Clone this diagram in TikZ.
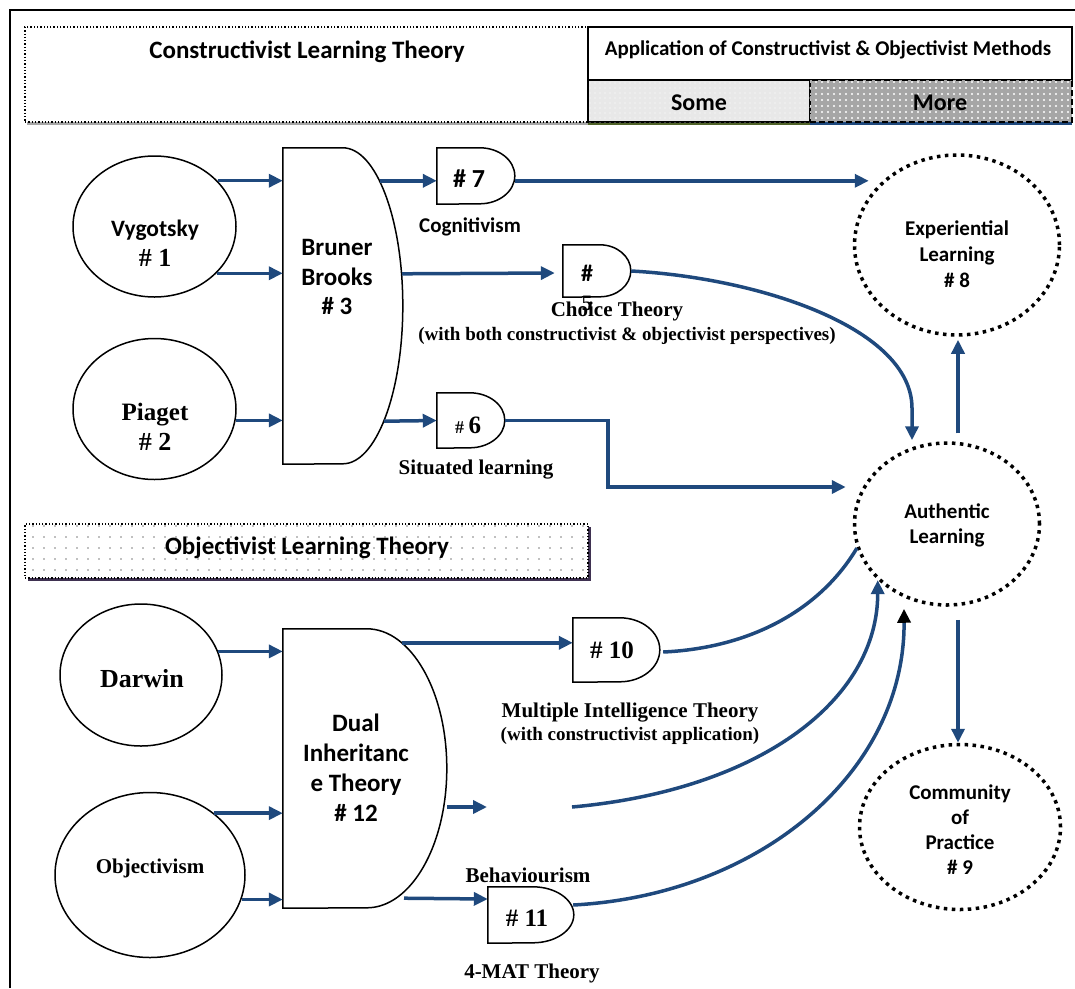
\documentclass[tikz,border=0pt]{standalone}
\usepackage{fontspec}
\setmainfont{Liberation Serif}
\newfontfamily\calib{Carlito}
\usetikzlibrary{arrows.meta,shapes.geometric,patterns.meta,calc}
\definecolor{linkblue}{HTML}{1F497D}
\definecolor{shadowgreen}{HTML}{4F6228}
\definecolor{shadowpurple}{HTML}{3F3151}
% sans (Calibri-like) and serif (Times-like) bold faces at a given size/leading
\newcommand\cf[2]{\calib\bfseries\fontsize{#1pt}{#2pt}\selectfont}
\newcommand\tf[2]{\rmfamily\bfseries\fontsize{#1pt}{#2pt}\selectfont}
% D-shaped outline over a gate node: name, flat top length, x radius, y radius
\newcommand\gate[4]{\draw[line width=1.5pt,fill=white] (#1.north west) -- ++(#2,0)
  arc[start angle=90,end angle=-90,x radius=#3pt,y radius=#4pt] -- (#1.south west) -- cycle;}
\begin{document}
\begin{tikzpicture}[x=1pt,y=-1pt,
  link/.style={draw=linkblue,line width=3.5pt},
  arr/.style={link,-{Triangle[length=14pt,width=13pt]}},
  solidell/.style={ellipse,draw,line width=1.5pt,inner sep=0pt},
  dotell/.style={ellipse,draw,line width=3.5pt,dash pattern=on 3.5pt off 4.5pt,inner sep=0pt},
  gatebox/.style={rectangle,inner sep=0pt},
  lbl/.style={inner sep=0pt,align=center},
]
\useasboundingbox (0,0) rectangle (1075,988);

% page frame
\draw[line width=2pt] (10,988) -- (10,10) -- (1075,10);

% ---- header: constructivist title box ----
\fill[gray!70] (27,121) rectangle (588,125);
\node[draw,dotted,line width=1.3pt,fill=white,minimum width=563pt,minimum height=95pt,inner sep=0pt] (conbox) at (306.5,74.5) {};
\node[lbl,font=\cf{25}{28}] (conT) at (307,52) {Constructivist Learning Theory};

% ---- header: application legend ----
\fill[shadowgreen] (588,120) rectangle (810,125);
\fill[linkblue] (810,120) rectangle (1072,125);
\node[draw,line width=1.5pt,fill=white,minimum width=484pt,minimum height=53pt,inner sep=0pt] (appbox) at (830,53.5) {};
\node[lbl,font=\cf{21}{24}] (appT) at (828,50) {Application of Constructivist \& Objectivist Methods};
\node[draw,line width=1.5pt,fill=gray!18,minimum width=222pt,minimum height=42pt,inner sep=0pt,
  postaction={pattern={Dots[distance=5pt,radius=0.6pt]},pattern color=white}] (some) at (699,101) {};
\node[draw,line width=2pt,dash pattern=on 6pt off 3pt,fill=gray!70,minimum width=262pt,minimum height=42pt,inner sep=0pt,
  postaction={pattern={Dots[distance=6pt,radius=1.1pt]},pattern color=white}] (more) at (941,101) {};
\node[lbl,font=\cf{24}{28}] (someT) at (699,103) {Some};
\node[lbl,font=\cf{24}{28}] (moreT) at (940,103) {More};

% ---- objectivist title box ----
\fill[shadowpurple] (28,527) rectangle (591,581);
\node[draw,dotted,line width=1.3pt,fill=white,minimum width=563pt,minimum height=54pt,inner sep=0pt,
  postaction={pattern={Dots[distance=11pt,radius=0.9pt]},pattern color=gray}] (objbox) at (306.5,551) {};
\node[lbl,font=\cf{25}{28}] (objLT) at (307,548) {Objectivist Learning Theory};

% ---- source theorists ----
\node[solidell,minimum width=163pt,minimum height=141pt] (vyg) at (154.5,226.5) {};
\node[solidell,minimum width=163pt,minimum height=141pt] (pia) at (154.5,409) {};
\node[solidell,minimum width=162pt,minimum height=142pt] (dar) at (141,675) {};
\node[solidell,minimum width=190pt,minimum height=165pt] (obj) at (150,875) {};

% ---- gates ----
\node[gatebox,minimum width=120pt,minimum height=316pt] (b3) at (343,306) {};
\gate{b3}{60}{60}{158}
\node[gatebox,minimum width=164pt,minimum height=279pt] (d12) at (365,768.5) {};
\gate{d12}{84}{80}{139.5}
\node[gatebox,minimum width=78pt,minimum height=56pt] (g7) at (476,176) {};
\gate{g7}{43}{35}{28}
\node[gatebox,minimum width=68pt,minimum height=52pt] (g5) at (597,271) {};
\gate{g5}{37}{31}{26}
\node[gatebox,minimum width=68pt,minimum height=55pt] (g6) at (471,420.5) {};
\gate{g6}{33}{35}{27.5}
\node[gatebox,minimum width=87pt,minimum height=64pt] (g10) at (616.5,650) {};
\gate{g10}{47}{40}{32}
\node[gatebox,minimum width=86pt,minimum height=56pt] (g11) at (531,915) {};
\gate{g11}{45}{41}{28}

% ---- outcomes ----
\node[dotell,minimum width=205pt,minimum height=180pt] (exp) at (957,245) {};
\node[dotell,minimum width=185pt,minimum height=162pt] (auth) at (947,524) {};
\node[dotell,minimum width=201pt,minimum height=165pt] (com) at (960,827) {};

% ---- connectors: constructivist side ----
\draw[arr] (vyg.36) -- (vyg.36 -| b3.west);
\draw[arr] (vyg.-37) -- (vyg.-37 -| b3.west);
\draw[arr] (pia.-8) -- (pia.-8 -| b3.west);
\coordinate (b3o7) at ($(b3.north)+(37,33)$);
\draw[arr] (b3o7) -- (b3o7 -| g7.west);
\draw[arr] (b3o7 -| g7.east) -- ($(b3o7 -| exp.west)+(16,0)$);
\draw[arr] ($(b3.north)+(59,126)$) -- ($(g5.west)+(-8,2)$);
\draw[arr] ($(b3.south)+(41,-43)$) -- (g6.west);
\draw[arr] (g5.east) .. controls ($(g5.east)+(129,7)$) and ($(auth.north)+(-35,-113)$) .. ($(auth.north)+(-35,-33)$) -- ($(auth.north)+(-35,-1)$);
\draw[arr] (g6.east) -- ($(g6.east)+(103,0)$) |- ($(auth.west)+(-7,-37)$);
\draw[arr] ($(auth.north)+(11,-8)$) -- ($(exp.south)+(1,3)$);
\draw[arr] ($(auth.south)+(11,13)$) -- ($(com.north)+(-2,0)$);

% ---- connectors: objectivist side ----
\draw[arr] (dar.17) -- (dar.17 -| d12.west);
\draw[arr] (obj.44) -- (obj.44 -| d12.west);
\draw[arr] (obj.-15) -- (obj.-15 -| d12.west);
\coordinate (d12o10) at ($(d12.north)+(37,14)$);
\draw[arr] (d12o10) -- (d12o10 -| g10.west);
\coordinate (gapL) at (487,807);
\coordinate (gapR) at (572,807);
\draw[arr] ($(d12.east)+(0,38.5)$) -- (gapL);
\draw[arr] ($(d12.south)+(39,-10)$) -- ($(g11.west)+(0,-16)$);
\draw[link] ($(g10.east)+(3,2)$) .. controls ($(g10.east)+(90,-2)$) and (820,610) .. (auth.195);
\draw[arr] (gapR) .. controls ($(gapR)+(188,-17)$) and ($(auth.-141)+(0,120)$) .. (auth.-141);
\draw[link,-{Triangle[length=14pt,width=13pt,color=black]}] ($(g11.east)+(-1,-10)$) .. controls ($(g11.east)+(186,-20)$) and ($(auth.south)+(-42,165)$) .. ($(auth.south)+(-43,2)$);

% ---- labels ----
\node[lbl,font=\cf{23.5}{30}] (vygT) at (155,243) {Vygotsky\\{\tf{26}{30}\# 1}};
\node[lbl,font=\cf{21}{30}] (piaT) at (155,427) {{\tf{25}{30}Piaget}\\{\tf{26}{30}\# 2}};
\node[lbl,font=\cf{25}{29.5}] (b3T) at (337,277) {Bruner\\Brooks\\\# 3};
\node[lbl,font=\cf{26}{28}] (g7T) at (469,179) {\# 7};
\node[lbl,font=\cf{21}{24}] (cogT) at (470,227) {Cognitivism};
\node[lbl,font=\cf{24}{29}] (g5T) at (587,288) {\#\\{\tf{22}{29}5}};
\node[lbl,font=\tf{21}{24}] (choT) at (617,311) {Choice Theory};
\node[lbl,font=\tf{19}{22}] (choS) at (627,336) {(with both constructivist \& objectivist perspectives)};
\node[lbl] (g6T) at (468,425) {{\tf{18}{22}\# }{\tf{25}{30}6}};
\node[lbl,font=\tf{21}{24}] (sitT) at (476,470) {Situated learning};
\node[lbl,font=\cf{21}{26}] (expT) at (957,254) {Experiential\\Learning\\\# 8};
\node[lbl,font=\cf{21}{25}] (authT) at (947,525) {Authentic\\Learning};
\node[lbl,font=\cf{21}{25}] (comT) at (960,830) {Community\\of\\Practice\\\# 9};
\node[lbl,font=\tf{26}{30}] (darT) at (142,679) {Darwin};
\node[lbl,font=\tf{21}{25}] (objT) at (150,868) {Objectivism};
\node[lbl,font=\cf{25}{30}] (d12T) at (356,768) {Dual\\Inheritanc\\e Theory\\\# 12};
\node[lbl,font=\tf{25}{30}] (g10T) at (612,650) {\# 10};
\node[lbl,font=\tf{21}{23}] (mitT) at (630,724) {Multiple Intelligence Theory\\{\tf{19}{23}(with constructivist application)}};
\node[lbl,font=\tf{21}{24}] (behT) at (528,875) {Behaviourism};
\node[lbl,font=\tf{25}{30}] (g11T) at (527,918) {\# 11};
\node[lbl,font=\tf{21}{24}] (matT) at (532,973) {4-MAT Theory};
\end{tikzpicture}
\end{document}
